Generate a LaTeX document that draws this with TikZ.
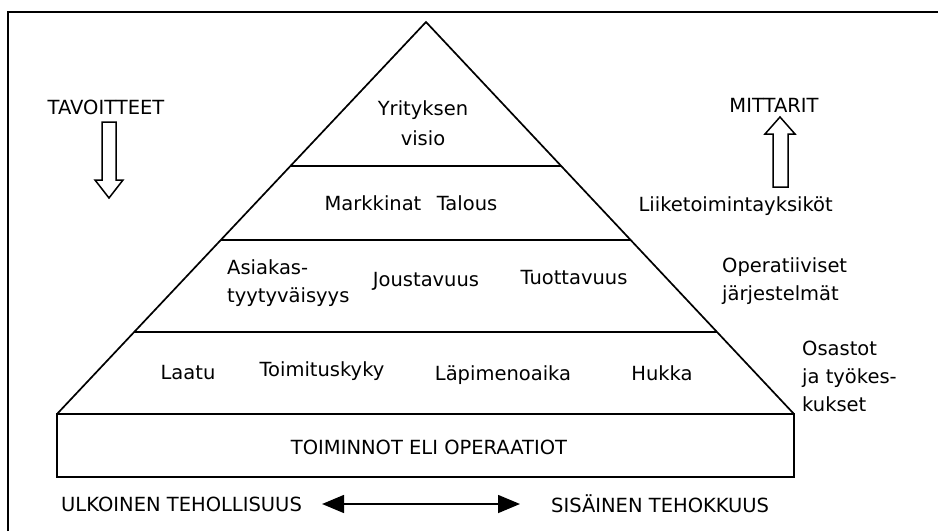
\documentclass[tikz,border=0pt]{standalone}
\usepackage{fontspec}
\setmainfont{DejaVu Sans}
\usetikzlibrary{calc,arrows.meta}
\tikzset{
  frame/.style={line width=1.9pt},
  edge/.style={line width=1.7pt, line join=miter},
  lbl/.style={inner sep=0pt, font=\fontsize{19.5}{28}\selectfont},
  hollow/.style={line width=1.5pt, fill=white},
}
\begin{document}
\begin{tikzpicture}[x=1pt,y=-1pt]
\useasboundingbox (0,0) rectangle (938,531);
% outer frame: left and top edges only
\draw[frame] (8,531) -- (8,12) -- (938,12);

% pyramid corners
\coordinate (apex) at (426,22);
\coordinate (bl) at (57,414);
\coordinate (br) at (794,414);
\draw[edge] (bl) -- (apex) -- (br);
% level dividers
\foreach \t/\n in {0.367/a,0.556/b,0.791/c}{
  \coordinate (l\n) at ($(apex)!\t!(bl)$);
  \coordinate (r\n) at ($(apex)!\t!(br)$);
  \draw[edge] (l\n) -- (r\n);
}
% base block
\coordinate (boxbr) at (794,477);
\draw[edge] (bl) rectangle (boxbr);

% texts inside the pyramid
\node[lbl, align=center, font=\fontsize{19.5}{30}\selectfont] (visio) at (423,123) {Yrityksen\\visio};
\node[lbl] (markkinat) at (373,203) {Markkinat};
\node[lbl] (talous) at (467,203) {Talous};
\node[lbl, align=left, anchor=west] (asiakas) at (227,283) {Asiakas-\\tyytyväisyys};
\node[lbl] (joustavuus) at (426,281) {Joustavuus};
\node[lbl] (tuottavuus) at (574,278) {Tuottavuus};
\node[lbl] (laatu) at (188,373) {Laatu};
\node[lbl] (toimitus) at (322,371) {Toimituskyky};
\node[lbl] (lapimeno) at (503,375) {Läpimenoaika};
\node[lbl] (hukka) at (662,373) {Hukka};
\node[lbl] (toiminnot) at (429,447) {TOIMINNOT ELI OPERAATIOT};

% side labels
\node[lbl] (tavoitteet) at (106,107) {TAVOITTEET};
\node[lbl] (mittarit) at (774,105) {MITTARIT};
\node[lbl, anchor=east] (liike) at (833,206) {Liiketoimintayksiköt};
\node[lbl, align=left, anchor=west] (oper) at (722,281) {Operatiiviset\\järjestelmät};
\node[lbl, align=left, anchor=west] (osastot) at (802,376) {Osastot\\ja työkes-\\kukset};

% hollow block arrows
\draw[hollow] (102,122) -- (116,122) -- (116,180) -- (123,180) -- (109,198)
  -- (95,180) -- (102,180) -- cycle;
\draw[hollow] (773,187) -- (788,187) -- (788,134) -- (795,134) -- (780,117)
  -- (765,134) -- (773,134) -- cycle;

% bottom labels and the two-headed arrow
\node[lbl, anchor=west] (ulk) at (61,504) {ULKOINEN TEHOLLISUUS};
\node[lbl, anchor=west] (sis) at (551,504) {SISÄINEN TEHOKKUUS};
\draw[line width=1.6pt, {Triangle[length=22pt,width=18pt]}-{Triangle[length=22pt,width=18pt]}]
  ([xshift=20pt]ulk.east) -- ([xshift=-31pt]sis.west);
\end{tikzpicture}
\end{document}
